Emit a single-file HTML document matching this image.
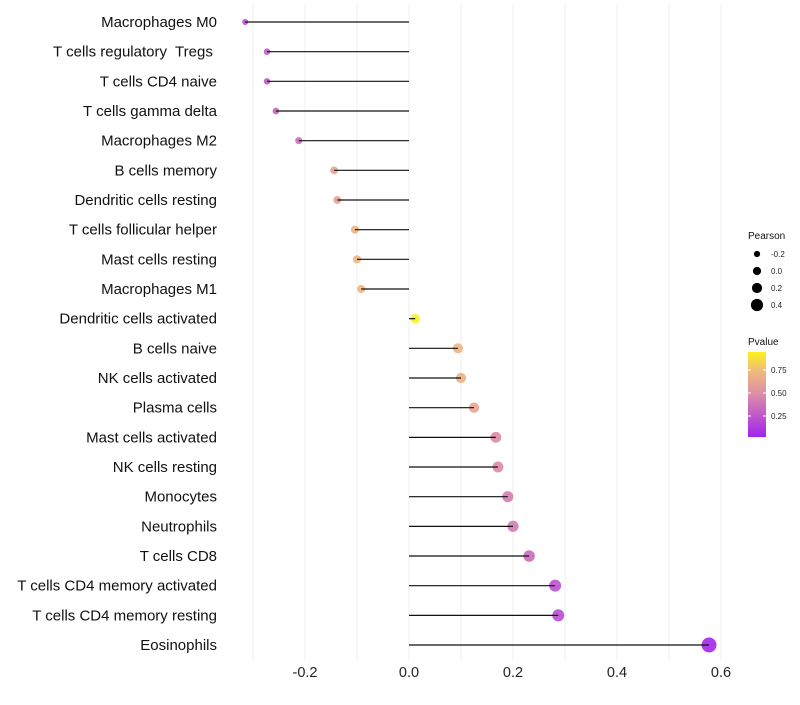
<!DOCTYPE html>
<html><head><meta charset="utf-8"><style>
body{margin:0;background:#fff;font-family:"Liberation Sans",sans-serif}
</style></head><body>
<svg id="chart" width="800" height="700" xmlns="http://www.w3.org/2000/svg" font-family="Liberation Sans, sans-serif"></svg>
<script>
const categories=["Macrophages M0","T cells regulatory  Tregs ","T cells CD4 naive","T cells gamma delta","Macrophages M2","B cells memory","Dendritic cells resting","T cells follicular helper","Mast cells resting","Macrophages M1","Dendritic cells activated","B cells naive","NK cells activated","Plasma cells","Mast cells activated","NK cells resting","Monocytes","Neutrophils","T cells CD8","T cells CD4 memory activated","T cells CD4 memory resting","Eosinophils"];
const pearson=[-0.315,-0.273,-0.273,-0.256,-0.212,-0.144,-0.138,-0.104,-0.1,-0.092,0.012,0.094,0.1,0.125,0.167,0.171,0.19,0.2,0.231,0.281,0.287,0.577];
const pvalue=[0.2,0.25,0.25,0.3,0.35,0.6,0.6,0.7,0.7,0.72,0.95,0.7,0.68,0.62,0.48,0.47,0.42,0.4,0.33,0.22,0.2,0.03];
const xTicks=[-0.2,0,0.2,0.4,0.6];
const xTickLabels=["-0.2","0.0","0.2","0.4","0.6"];
const sizeLegend=[-0.2,0,0.2,0.4];
const colorLegend=[0.25,0.5,0.75];

const svg=document.getElementById('chart');
const NS="http://www.w3.org/2000/svg";
const X=v=>409+v*520;
const Y=i=>22+i*29.667;
const R=v=>Math.max(1.5,4.6+5*v);
const stops=[[0,[160,32,240]],[0.5,[222,144,165]],[0.75,[240,190,120]],[1,[255,255,0]]];
function col(p){p=Math.max(0,Math.min(1,p));for(let k=1;k<stops.length;k++){if(p<=stops[k][0]){const a=stops[k-1],b=stops[k];const t=(p-a[0])/(b[0]-a[0]);const c=a[1].map((v,j)=>Math.round(v+(b[1][j]-v)*t));return `rgb(${c})`;}}return 'rgb(255,255,0)';}
function mk(tag,attrs,parent){const e=document.createElementNS(NS,tag);for(const k in attrs)e.setAttribute(k,attrs[k]);(parent||svg).appendChild(e);return e;}
for(let g=-0.3;g<=0.61;g+=0.1){const l=mk('line',{x1:X(g),x2:X(g),y1:5,y2:660,stroke:'#efefef','stroke-width':1});

}
xTicks.forEach((t,i)=>{const tx=mk('text',{x:X(t),y:677,'text-anchor':'middle','font-size':14.5,fill:'#222'});tx.textContent=xTickLabels[i];

});
categories.forEach((c,i)=>{
const tx=mk('text',{x:217,y:Y(i)+5,'text-anchor':'end','font-size':15,fill:'#111',style:'white-space:pre'});tx.textContent=c;


const pt=mk('circle',{cx:X(pearson[i]),cy:Y(i),r:R(pearson[i]),fill:col(pvalue[i]),opacity:0.9});


const ln=mk('line',{x1:X(0),x2:X(pearson[i]),y1:Y(i),y2:Y(i),stroke:'#111','stroke-width':1.2});


});
const lt=mk('text',{x:748,y:239,'font-size':10,fill:'#111'});lt.textContent='Pearson';


sizeLegend.forEach((v,i)=>{const cy=254+i*17;const c=mk('circle',{cx:757,cy:cy,r:R(v)-0.5,fill:'#000'});


const t=mk('text',{x:771,y:cy+3,'font-size':8,fill:'#222'});t.textContent=v.toFixed(1);

});
const ct=mk('text',{x:748,y:345,'font-size':10,fill:'#111'});ct.textContent='Pvalue';


const defs=mk('defs',{});const gr=mk('linearGradient',{id:'pg',x1:0,y1:1,x2:0,y2:0},defs);
const cTop=0.945,cBot=0.016;
for(let k=0;k<=20;k++){const p=cBot+(cTop-cBot)*k/20;mk('stop',{offset:k/20,'stop-color':col(p)},gr);}
const bar=mk('rect',{x:748,y:352,width:18,height:85,fill:'url(#pg)'});


const CY=p=>393-(p-0.5)*92;
colorLegend.forEach(v=>{const t=mk('text',{x:771,y:CY(v)+3,'font-size':8,fill:'#222'});t.textContent=v.toFixed(2);


mk('line',{x1:748,x2:751,y1:CY(v),y2:CY(v),stroke:'#fff'});mk('line',{x1:763,x2:766,y1:CY(v),y2:CY(v),stroke:'#fff'});});
</script>
</body></html>
